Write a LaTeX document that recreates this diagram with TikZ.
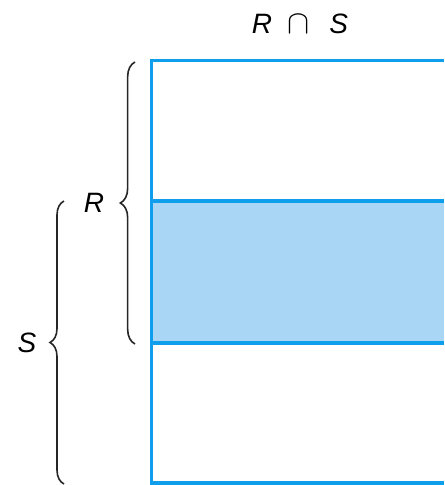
\documentclass[tikz,border=0pt]{standalone}
\usepackage{fontspec}
\setmainfont{Liberation Sans}
\usetikzlibrary{decorations.pathreplacing}
\definecolor{setline}{RGB}{15,158,235}
\definecolor{setfill}{RGB}{170,214,245}
\begin{document}
\begin{tikzpicture}[x=0.75pt,y=-0.75pt,
    setlabel/.style={font=\fontsize{21}{25}\selectfont\itshape},
    setedge/.style={setline,line width=2.3pt},
    curly/.style={decorate,decoration={brace,amplitude=11pt},line width=1.2pt,black!85}]
    \useasboundingbox (0,0) rectangle (444,485);
    % shaded band R cap S
    \fill[setfill] (151.5,201) rectangle (444,343);
    \draw[setedge] (444,60.5) -- (151.5,60.5) -- (151.5,483) -- (444,483);
    \draw[setedge] (151.5,201) -- (444,201);
    \draw[setedge] (151.5,343) -- (444,343);
    % braces
    \coordinate (rtop) at (135,62);
    \coordinate (rbot) at (135,344);
    \coordinate (stop) at (64,201);
    \coordinate (sbot) at (64,484);
    \draw[curly] (rbot) -- (rtop);
    \draw[curly,decoration={amplitude=10.5pt}] (sbot) -- (stop);
    \node[setlabel] (lblR) at (94,203) {R};
    \node[setlabel] (lblS) at (27,343) {S};
    \node[setlabel] (lblRS) at (300,24) {R\hspace{0.55em}{\fontsize{27}{25}\selectfont$\cap$}\hspace{0.7em}S};
\end{tikzpicture}
\end{document}
